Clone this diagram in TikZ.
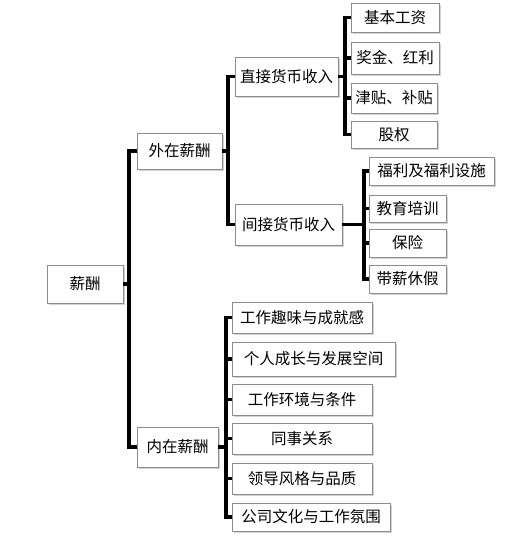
\documentclass[tikz,border=0pt]{standalone}
\usepackage{fontspec}
\setmainfont{Noto Sans CJK SC}
\usetikzlibrary{shadows}
\tikzset{ %boxes and elbow links of the tree
  box/.style 2 args={draw=black!45,fill=white,line width=0.6pt,inner sep=0pt,
    minimum width=#1pt,minimum height=#2pt,
    font=\fontsize{15.5}{17}\selectfont,
    drop shadow={shadow xshift=1.6pt,shadow yshift=-1.6pt,opacity=0.35}},
  link/.style={line width=3.2pt}
}
\begin{document}
\begin{tikzpicture}[x=1pt,y=-1pt]
\useasboundingbox (0,0) rectangle (514,540);

% spine x positions
\coordinate (s0) at (129,0);
\coordinate (sw) at (228,0);
\coordinate (sz) at (345,0);
\coordinate (sj) at (364,0);
\coordinate (sn) at (226,0);

\node [box={76}{38}] (xc) at (85,284) {薪酬};
\node [box={85}{36}] (wz) at (179.5,151) {外在薪酬};
\node [box={81}{40}] (nz) at (177.5,447) {内在薪酬};

\node [box={103}{39}] (zj) at (286.5,76.5) {直接货币收入};
\node [box={107}{41}] (jj) at (288.5,224.5) {间接货币收入};

\node [box={88}{29}] (z1) at (395,17.5) {基本工资};
\node [box={88}{32}] (z2) at (395,58) {奖金、红利};
\node [box={86}{30}] (z3) at (394,98) {津贴、补贴};
\node [box={86}{27}] (z4) at (394,134.5) {股权};

\node [box={125}{28}] (j1) at (431.5,171) {福利及福利设施};
\node [box={77}{27}] (j2) at (407.5,208.5) {教育培训};
\node [box={77}{28}] (j3) at (407.5,243) {保险};
\node [box={77}{28}] (j4) at (407.5,279) {带薪休假};

\node [box={140}{31}] (n1) at (302,317.5) {工作趣味与成就感};
\node [box={163}{34}] (n2) at (313.5,359) {个人成长与发展空间};
\node [box={140}{31}] (n3) at (302,399.5) {工作环境与条件};
\node [box={140}{31}] (n4) at (302,438.5) {同事关系};
\node [box={140}{31}] (n5) at (302,478.5) {领导风格与品质};
\node [box={158}{28}] (n6) at (311,517) {公司文化与工作氛围};

\foreach \c in {wz,nz}
  \draw [link] (xc.east) -| (s0 |- \c.west) -- (\c.west);
\foreach \c in {zj,jj}
  \draw [link] (wz.east) -| (sw |- \c.west) -- (\c.west);
\foreach \c in {z1,z2,z3,z4}
  \draw [link] (zj.east) -| (sz |- \c.west) -- (\c.west);
\foreach \c in {j1,j2,j3,j4}
  \draw [link] (jj.east) -| (sj |- \c.west) -- (\c.west);
\foreach \c in {n1,n2,n3,n4,n5,n6}
  \draw [link] (nz.east) -| (sn |- \c.west) -- (\c.west);
\end{tikzpicture}
\end{document}
